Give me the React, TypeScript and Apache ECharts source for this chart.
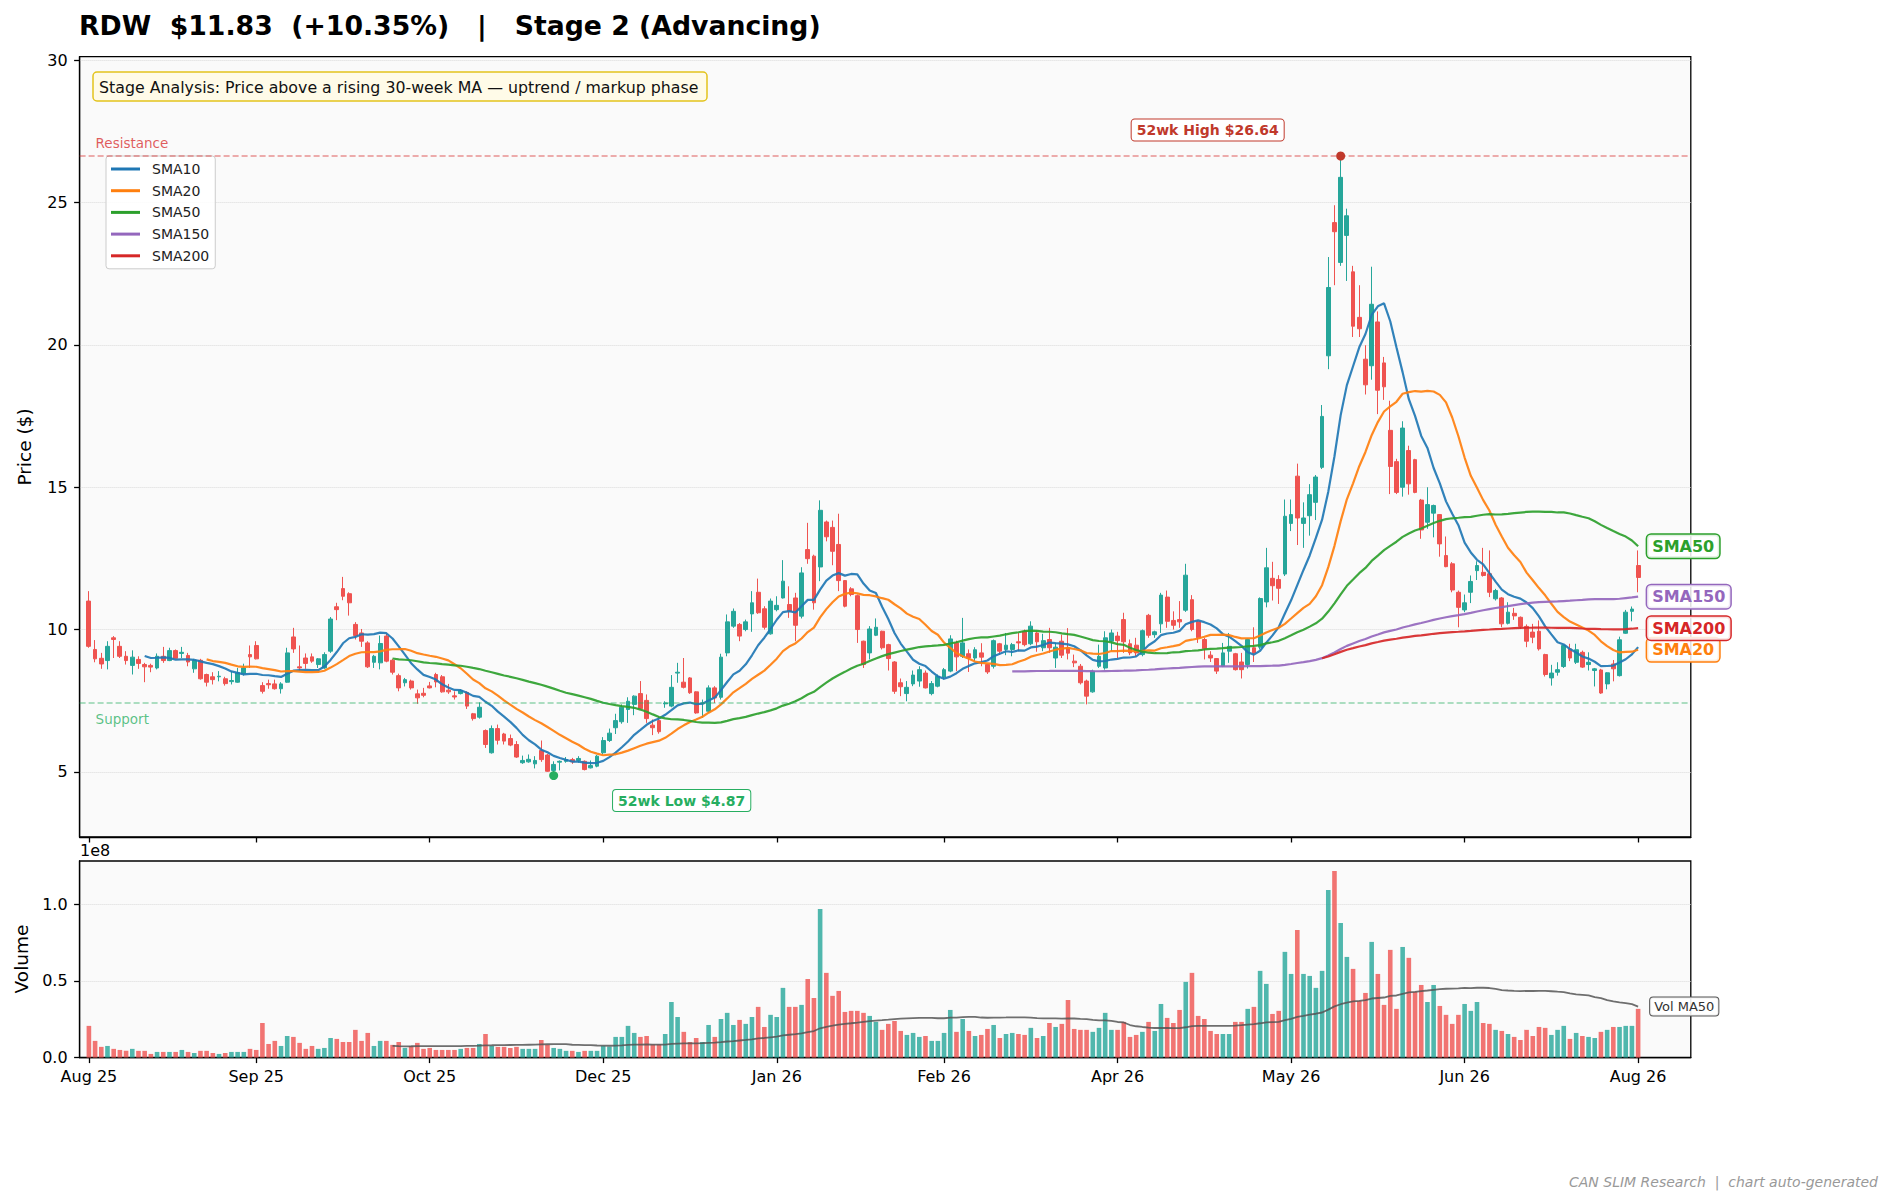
import React, { useEffect, useRef } from 'react';
import * as echarts from 'echarts';

const FONT = "'DejaVu Sans', sans-serif";

const opens = [
  11.0, 9.30, 8.99, 8.91, 9.71, 9.41, 9.06, 8.74, 8.95, 8.77,
  8.74, 8.65, 9.06, 8.91, 9.26, 9.16, 9.09, 8.62, 8.92, 8.42,
  8.34, 8.34, 8.27, 8.17, 8.15, 8.45, 9.12, 9.44, 8.03, 8.10,
  8.09, 7.92, 8.15, 9.74, 8.69, 9.00, 9.04, 8.77, 8.65, 9.24,
  10.80, 11.44, 11.26, 10.18, 9.88, 9.53, 8.85, 8.83, 9.77, 8.92,
  8.38, 8.13, 8.19, 7.74, 7.76, 8.02, 8.42, 8.34, 7.87, 7.67,
  7.75, 7.79, 7.04, 6.92, 6.45, 5.67, 6.52, 6.33, 6.17, 5.96,
  5.32, 5.35, 5.28, 5.75, 5.59, 5.05, 5.34, 5.37, 5.43, 5.40,
  5.37, 5.14, 5.20, 5.67, 6.10, 6.55, 6.76, 7.19, 7.37, 7.75,
  7.51, 6.64, 6.80, 7.39, 7.31, 8.47, 8.15, 8.30, 7.81, 7.39,
  7.13, 7.95, 7.62, 9.18, 10.12, 10.18, 10.00, 10.55, 11.31, 10.73,
  9.85, 10.70, 11.11, 10.88, 11.11, 10.47, 12.81, 12.58, 12.20, 13.78,
  13.59, 12.99, 11.72, 11.43, 11.19, 9.59, 9.18, 9.80, 9.94, 9.47,
  8.86, 8.13, 7.75, 8.09, 8.19, 8.47, 7.75, 8.01, 8.33, 8.54,
  9.53, 9.06, 9.15, 9.00, 9.18, 8.77, 8.71, 9.50, 9.30, 9.30,
  9.57, 9.94, 9.50, 9.88, 9.36, 9.65, 9.00, 9.59, 9.36, 8.89,
  8.71, 8.19, 7.81, 8.71, 8.65, 9.59, 9.77, 10.35, 9.50, 9.45,
  9.12, 10.50, 9.82, 10.20, 11.14, 10.32, 10.35, 10.68, 11.05, 10.27,
  9.65, 9.10, 8.98, 8.71, 9.24, 9.15, 8.86, 8.77, 9.36, 9.38,
  10.97, 11.80, 11.76, 11.95, 13.73, 15.39, 13.73, 14.00, 14.47, 15.70,
  19.62, 24.30, 22.90, 23.85, 22.57, 20.97, 19.50, 19.27, 20.81, 19.37,
  17.00, 15.90, 15.00, 16.29, 15.97, 14.55, 13.77, 14.09, 14.04, 12.60,
  12.31, 11.31, 10.69, 11.31, 12.07, 12.01, 11.96, 11.08, 11.11, 10.22,
  10.57, 10.43, 10.11, 9.91, 9.94, 9.12, 8.30, 8.50, 8.70, 9.32,
  8.85, 9.20, 8.77, 8.56, 8.58, 8.09, 8.79, 8.38, 9.87, 10.64,
  12.25,
];

const closes = [
  9.41, 8.97, 8.79, 9.41, 9.65, 9.06, 8.91, 9.03, 8.81, 8.69,
  8.68, 9.06, 8.91, 9.26, 8.99, 9.20, 8.86, 8.91, 8.27, 8.15,
  8.24, 8.36, 8.10, 8.21, 8.48, 8.65, 9.04, 8.97, 7.83, 8.06,
  7.92, 8.09, 9.18, 9.32, 8.65, 8.81, 8.89, 8.97, 9.12, 10.37,
  10.70, 11.17, 10.94, 9.79, 9.59, 8.69, 9.06, 9.51, 8.89, 8.50,
  7.95, 8.24, 7.95, 7.60, 7.69, 7.95, 8.16, 7.81, 7.81, 7.63,
  7.86, 7.31, 6.87, 7.27, 5.96, 6.52, 6.11, 6.08, 5.94, 5.52,
  5.40, 5.44, 5.40, 5.43, 5.02, 5.26, 5.37, 5.43, 5.35, 5.47,
  5.08, 5.22, 5.55, 6.10, 6.36, 6.80, 7.27, 7.48, 7.66, 7.22,
  6.87, 6.55, 6.41, 7.42, 7.97, 8.50, 7.97, 7.78, 7.07, 7.42,
  7.95, 7.60, 9.03, 10.27, 10.64, 9.77, 10.27, 10.94, 10.59, 10.08,
  11.00, 10.85, 11.70, 10.64, 10.15, 11.99, 12.49, 10.94, 14.19, 13.26,
  12.75, 11.72, 10.82, 11.23, 10.00, 8.77, 10.02, 10.08, 9.36, 8.98,
  7.83, 7.99, 7.97, 8.40, 8.59, 7.95, 8.10, 8.36, 8.59, 9.67,
  9.04, 9.53, 9.00, 9.29, 9.03, 8.51, 9.61, 9.24, 9.45, 9.47,
  9.53, 9.47, 10.12, 9.57, 9.61, 9.36, 9.38, 9.10, 9.17, 8.83,
  8.13, 7.66, 8.54, 9.06, 9.71, 9.88, 9.61, 9.57, 9.18, 9.18,
  9.96, 9.80, 9.92, 11.21, 10.29, 10.15, 10.27, 11.91, 10.00, 9.71,
  9.33, 9.00, 8.54, 9.18, 9.41, 8.59, 8.59, 9.65, 9.18, 11.09,
  12.17, 11.54, 11.45, 13.98, 14.04, 13.92, 13.92, 14.74, 15.36, 17.49,
  22.02, 23.98, 25.89, 24.54, 20.66, 20.57, 18.60, 21.43, 18.41, 18.53,
  15.73, 14.82, 17.08, 15.12, 14.82, 13.50, 14.39, 14.36, 13.01, 12.21,
  11.39, 10.78, 10.94, 11.69, 12.25, 11.90, 11.31, 11.37, 10.20, 10.61,
  10.48, 10.11, 9.59, 9.73, 9.32, 8.42, 8.47, 8.59, 9.44, 9.00,
  9.29, 8.68, 8.85, 8.62, 7.77, 8.48, 8.62, 9.64, 10.61, 10.72,
  11.83,
];

const lows = [
  9.36, 8.85, 8.62, 8.60, 9.00, 9.00, 8.77, 8.42, 8.62, 8.15,
  8.50, 8.60, 8.83, 8.89, 8.97, 9.00, 8.71, 8.48, 8.24, 8.00,
  8.07, 8.18, 8.03, 8.07, 8.13, 8.38, 8.65, 8.95, 7.75, 7.92,
  7.89, 7.75, 8.13, 9.18, 8.54, 8.62, 8.83, 8.65, 8.62, 9.18,
  10.33, 11.03, 10.49, 9.65, 9.39, 8.65, 8.65, 8.60, 8.85, 8.42,
  7.83, 8.00, 7.89, 7.39, 7.62, 7.93, 7.97, 7.78, 7.74, 7.54,
  7.72, 7.21, 6.80, 6.87, 5.84, 5.64, 5.96, 5.96, 5.90, 5.49,
  5.28, 5.32, 5.12, 5.35, 5.00, 4.87, 5.05, 5.32, 5.28, 5.32,
  5.05, 5.12, 5.16, 5.61, 6.05, 6.33, 6.69, 6.72, 6.99, 7.19,
  6.72, 6.29, 6.34, 7.25, 7.27, 8.13, 7.93, 7.74, 7.04, 6.90,
  7.07, 7.42, 7.54, 9.06, 10.06, 9.59, 9.94, 9.92, 10.55, 10.00,
  9.82, 10.64, 11.09, 10.41, 9.59, 10.39, 12.31, 10.70, 11.70, 13.10,
  12.26, 11.35, 10.78, 11.17, 9.53, 8.65, 8.95, 9.77, 9.30, 8.56,
  7.74, 7.66, 7.48, 8.01, 7.99, 7.93, 7.69, 7.97, 8.24, 8.50,
  8.54, 9.00, 8.51, 8.89, 8.71, 8.44, 8.63, 9.12, 9.10, 9.06,
  9.24, 9.41, 9.45, 9.22, 9.24, 9.18, 8.65, 9.00, 8.95, 8.68,
  8.07, 7.37, 7.78, 8.65, 8.59, 9.24, 9.00, 9.18, 9.10, 9.06,
  9.06, 9.71, 9.71, 9.88, 10.06, 10.00, 10.06, 10.62, 9.94, 9.53,
  8.95, 8.86, 8.44, 8.68, 8.83, 8.56, 8.28, 8.63, 8.86, 9.30,
  10.78, 11.02, 10.90, 11.88, 13.46, 12.97, 12.87, 13.30, 13.85, 15.64,
  19.15, 22.10, 22.78, 22.25, 20.28, 20.28, 18.26, 18.78, 17.57, 18.07,
  14.76, 14.76, 14.67, 14.74, 14.79, 13.19, 13.54, 13.24, 12.56, 12.19,
  11.31, 10.08, 10.61, 10.93, 11.74, 11.86, 11.14, 11.02, 10.08, 10.18,
  10.34, 10.02, 9.38, 9.52, 9.26, 8.35, 8.03, 8.38, 8.65, 8.89,
  8.79, 8.65, 8.56, 8.00, 7.74, 7.90, 8.18, 8.35, 9.85, 10.29,
  11.31,
];

const highs = [
  11.35, 9.63, 9.18, 9.59, 9.77, 9.59, 9.24, 9.27, 9.06, 8.83,
  8.80, 9.16, 9.39, 9.36, 9.30, 9.39, 9.18, 8.97, 8.97, 8.45,
  8.50, 8.54, 8.34, 8.54, 8.65, 8.80, 9.44, 9.59, 8.15, 8.24,
  8.24, 8.15, 9.36, 10.06, 9.44, 9.16, 9.16, 9.00, 9.20, 10.44,
  10.94, 11.85, 11.31, 10.26, 10.02, 9.59, 9.11, 9.79, 9.86, 8.97,
  8.45, 8.30, 8.24, 7.89, 7.95, 8.16, 8.48, 8.40, 8.09, 7.83,
  7.90, 7.83, 7.07, 7.44, 6.49, 6.63, 6.66, 6.37, 6.31, 6.08,
  5.57, 5.61, 5.55, 6.10, 5.63, 5.37, 5.40, 5.52, 5.49, 5.55,
  5.40, 5.40, 5.59, 6.22, 6.52, 7.04, 7.37, 7.62, 7.69, 8.19,
  7.72, 6.84, 6.96, 7.48, 8.40, 8.83, 9.00, 8.33, 7.83, 7.54,
  8.04, 8.01, 9.15, 10.53, 10.74, 10.23, 10.35, 11.35, 11.79, 10.82,
  11.09, 11.17, 12.44, 11.52, 11.29, 12.19, 13.75, 12.63, 14.54, 13.83,
  13.83, 14.07, 11.74, 11.49, 11.23, 9.61, 10.12, 10.39, 9.96, 9.50,
  8.89, 8.28, 8.19, 8.56, 8.71, 8.56, 8.19, 8.42, 8.65, 9.80,
  9.61, 10.41, 9.30, 9.38, 9.52, 8.79, 9.65, 9.53, 9.88, 9.53,
  9.88, 10.00, 10.29, 9.94, 9.85, 10.06, 9.53, 9.82, 10.05, 9.12,
  8.79, 8.24, 8.59, 9.47, 9.94, 10.00, 9.92, 10.59, 9.65, 9.71,
  10.00, 10.55, 9.96, 11.29, 11.37, 10.64, 11.00, 12.31, 11.21, 10.32,
  9.71, 9.24, 9.00, 9.53, 9.88, 9.18, 9.18, 9.68, 10.08, 11.13,
  12.87, 12.38, 11.91, 14.57, 14.57, 15.83, 14.47, 15.11, 15.43, 17.89,
  23.09, 24.91, 26.64, 24.79, 22.78, 22.10, 19.99, 22.75, 21.18, 19.58,
  18.04, 16.00, 17.32, 16.46, 16.00, 14.59, 15.00, 14.39, 14.06, 13.27,
  12.37, 11.37, 11.23, 11.90, 12.40, 12.87, 12.78, 11.43, 11.14, 10.96,
  10.76, 10.46, 10.18, 10.20, 10.32, 9.15, 8.76, 8.85, 9.47, 9.50,
  9.50, 9.26, 9.20, 8.65, 8.62, 8.50, 8.93, 9.75, 10.69, 10.81,
  12.78,
];

// volume in millions of shares
const volumesM = [
  20.7, 10.9, 7.0, 7.6, 5.7, 5.0, 4.4, 5.7, 4.4, 4.4,
  2.4, 3.7, 3.7, 3.7, 3.7, 5.0, 3.7, 3.0, 4.4, 4.4,
  3.0, 2.4, 3.0, 3.7, 3.7, 3.7, 5.7, 5.0, 22.6, 8.9,
  10.9, 7.6, 14.1, 13.5, 9.6, 5.7, 7.6, 5.7, 6.3, 12.8,
  12.2, 10.2, 10.2, 18.1, 10.9, 16.1, 7.6, 10.9, 10.9, 8.3,
  10.2, 6.3, 7.6, 9.6, 5.7, 6.3, 5.0, 5.0, 5.0, 5.0,
  5.7, 6.3, 6.3, 8.9, 15.4, 7.6, 7.0, 7.0, 6.3, 7.0,
  5.7, 5.7, 5.7, 11.5, 8.3, 6.3, 5.7, 4.4, 4.4, 3.7,
  4.4, 4.4, 4.4, 7.6, 7.2, 13.5, 13.5, 20.7, 16.1, 13.5,
  14.1, 8.5, 8.5, 15.4, 36.3, 26.5, 16.8, 10.2, 12.8, 10.2,
  21.3, 13.5, 25.2, 29.2, 21.3, 24.6, 22.0, 26.5, 33.1, 20.0,
  27.9, 26.5, 45.5, 33.1, 33.1, 34.4, 51.3, 38.9, 97.0, 55.3,
  40.3, 43.5, 29.8, 30.5, 30.5, 29.2, 27.2, 23.3, 18.1, 22.0,
  23.9, 17.4, 14.8, 16.1, 13.5, 14.1, 10.9, 10.9, 16.1, 31.1,
  16.8, 25.2, 17.4, 14.1, 14.8, 18.7, 21.3, 12.8, 15.4, 16.1,
  15.4, 14.8, 19.4, 12.8, 14.1, 22.6, 20.0, 22.0, 37.6, 18.7,
  18.1, 18.1, 16.8, 19.4, 29.2, 18.1, 18.1, 23.3, 13.5, 14.8,
  16.8, 23.3, 17.4, 35.0, 25.9, 22.6, 31.1, 49.4, 55.3, 27.2,
  25.2, 17.4, 15.4, 15.4, 15.4, 23.3, 23.3, 31.8, 33.1, 56.6,
  48.1, 28.5, 30.5, 69.0, 54.6, 83.3, 54.6, 53.3, 45.5, 56.6,
  109.4, 121.8, 87.9, 65.7, 57.9, 37.0, 42.2, 75.5, 54.6, 34.4,
  70.3, 31.8, 72.2, 65.1, 42.9, 47.4, 36.3, 47.4, 33.7, 27.9,
  22.0, 27.9, 35.0, 30.5, 36.3, 22.6, 22.0, 18.1, 17.4, 15.4,
  13.5, 11.5, 18.1, 14.1, 20.0, 19.4, 14.8, 18.1, 20.7, 12.2,
  16.1, 14.1, 13.5, 12.8, 16.8, 18.1, 20.0, 20.0, 20.7, 20.7,
  31.8,
];

const tickIndex = [0, 27, 55, 83, 111, 138, 166, 194, 222, 250];
const tickLabels = ['Aug 25', 'Sep 25', 'Oct 25', 'Dec 25', 'Jan 26', 'Feb 26', 'Apr 26', 'May 26', 'Jun 26', 'Aug 26'];
const priceTicks = [5, 10, 15, 20, 25, 30];
const volumeTicks = [0, 0.5e8, 1.0e8];

const resistance = 26.64;
const support = 7.42;
const high52 = { index: 202, value: 26.64 };
const low52 = { index: 75, value: 4.87 };

const smaDefs = [
  { name: 'SMA10', period: 10, color: '#1f77b4', tag: false },
  { name: 'SMA20', period: 20, color: '#ff7f0e', tag: true },
  { name: 'SMA50', period: 50, color: '#2ca02c', tag: true },
  { name: 'SMA150', period: 150, color: '#9467bd', tag: true },
  { name: 'SMA200', period: 200, color: '#d62728', tag: true },
];

const LEAD = 1;
const TRAIL = 8;

function movingAverage(arr: number[], n: number): (number | string)[] {
  return arr.map((_, i) => {
    if (i < n - 1) return '-';
    let s = 0;
    for (let k = i - n + 1; k <= i; k++) s += arr[k];
    return +(s / n).toFixed(4);
  });
}

const UP = '#26a69a';
const DOWN = '#ef5350';

export default function App() {
  const ref = useRef<HTMLDivElement>(null);

  useEffect(() => {
    document.body.style.margin = '0';
    if (!ref.current) return;
    const chart = echarts.init(ref.current, null, { renderer: 'svg' });

    const n = closes.length;
    const cats: string[] = [];
    for (let k = 0; k < LEAD + n + TRAIL; k++) cats.push('d' + (k - LEAD));
    const pad = (arr: any[]) => [...Array(LEAD).fill('-'), ...arr];

    const labelMap: Record<number, string> = {};
    tickIndex.forEach((t, j) => { labelMap[t + LEAD] = tickLabels[j]; });
    const isTick = (idx: number) => labelMap[idx] !== undefined;

    const candleData = pad(closes.map((c, i) => [opens[i], c, lows[i], highs[i]]));
    const volumes = volumesM.map(v => v * 1e6);
    const volData = pad(volumes.map((v, i) => ({
      value: v,
      itemStyle: { color: closes[i] >= opens[i] ? 'rgba(38,166,154,0.8)' : 'rgba(239,83,80,0.8)' },
    })));
    const volMA = pad(movingAverage(volumes, 50));

    const axisLineStyle = { color: '#000', width: 1.3 };

    const xCommon = (gridIndex: number, showLabels: boolean) => ({
      type: 'category',
      gridIndex,
      data: cats,
      boundaryGap: true,
      axisLine: { show: true, lineStyle: axisLineStyle },
      axisTick: { show: true, interval: (i: number) => isTick(i), alignWithLabel: true, length: 5.5, lineStyle: axisLineStyle },
      axisLabel: {
        show: showLabels,
        interval: (i: number) => isTick(i),
        formatter: (_v: string, i: number) => labelMap[i] ?? '',
        fontSize: 16, color: '#000', fontFamily: FONT, margin: 11,
      },
      splitLine: { show: false },
    });

    const smaSeries = smaDefs.map(d => ({
      name: d.name,
      type: 'line',
      xAxisIndex: 0,
      yAxisIndex: 0,
      data: pad(movingAverage(closes, d.period)),
      showSymbol: false,
      symbol: 'none',
      color: d.color,
      itemStyle: { color: d.color },
      lineStyle: { width: 2.2, color: d.color, opacity: 0.92 },
      z: 4,
      endLabel: d.tag ? {
        show: true,
        formatter: d.name,
        color: d.color,
        fontWeight: 'bold',
        fontSize: 16,
        fontFamily: FONT,
        backgroundColor: 'rgba(255,255,255,0.85)',
        borderColor: d.color,
        borderWidth: 1.5,
        borderRadius: 4,
        padding: [4, 5, 3, 5],
        distance: 9,
      } : { show: false },
    }));

    const option: any = {
      animation: false,
      backgroundColor: '#ffffff',
      textStyle: { fontFamily: FONT },
      title: {
        text: 'RDW  $11.83  (+10.35%)   |   Stage 2 (Advancing)',
        left: 79,
        top: 12,
        padding: 0,
        textStyle: { fontSize: 26.7, fontWeight: 'bold', color: '#000', fontFamily: FONT },
      },
      legend: {
        data: smaDefs.map(d => d.name),
        orient: 'vertical',
        left: 106,
        top: 156,
        icon: 'rect',
        itemWidth: 29,
        itemHeight: 3,
        itemGap: 7.7,
        selectedMode: false,
        backgroundColor: 'rgba(255,255,255,0.85)',
        borderColor: '#cccccc',
        borderWidth: 1,
        borderRadius: 3,
        padding: [6, 6, 6, 5],
        textStyle: { fontSize: 14, color: '#222', fontFamily: FONT, lineHeight: 14, padding: [0, 0, 0, 7] },
      },
      grid: [
        { left: 79.6, top: 56.7, width: 1611.2, height: 780.3, show: true, backgroundColor: '#fafafa', borderColor: '#000', borderWidth: 1.3 },
        { left: 79.6, top: 861, width: 1611.2, height: 196.6, show: true, backgroundColor: '#fafafa', borderColor: '#000', borderWidth: 1.3 },
      ],
      xAxis: [xCommon(0, false), xCommon(1, true)],
      yAxis: [
        {
          type: 'value', gridIndex: 0, min: 2.71, max: 30.13,
          axisLine: { show: true, lineStyle: axisLineStyle },
          axisTick: { show: true, customValues: priceTicks, length: 5.5, lineStyle: axisLineStyle },
          axisLabel: { customValues: priceTicks, fontSize: 16, color: '#000', fontFamily: FONT, margin: 12 },
          splitLine: { show: true, lineStyle: { type: 'dotted', color: '#dadada', width: 1 } },
        },
        {
          type: 'value', gridIndex: 1, min: 0, max: 1.283e8,
          axisLine: { show: true, lineStyle: axisLineStyle },
          axisTick: { show: true, customValues: volumeTicks, length: 5.5, lineStyle: axisLineStyle },
          axisLabel: { customValues: volumeTicks, formatter: (v: number) => (v / 1e8).toFixed(1), fontSize: 16, color: '#000', fontFamily: FONT, margin: 12 },
          splitLine: { show: true, lineStyle: { type: 'dotted', color: '#dadada', width: 1 } },
        },
      ],
      series: [
        {
          name: 'RDW',
          type: 'candlestick',
          xAxisIndex: 0,
          yAxisIndex: 0,
          data: candleData,
          barWidth: 4.3,
          z: 3,
          itemStyle: { color: UP, color0: DOWN, borderColor: UP, borderColor0: DOWN, borderWidth: 1 },
          markLine: {
            symbol: 'none',
            silent: true,
            data: [
              {
                yAxis: resistance,
                lineStyle: { color: 'rgba(214,39,40,0.5)', type: [6, 3], width: 1.5 },
                label: { show: true, position: 'insideStartTop', formatter: 'Resistance', color: 'rgba(214,39,40,0.75)', fontSize: 13.5, fontFamily: FONT, distance: 6, padding: [0, 0, 0, 10] },
              },
              {
                yAxis: support,
                lineStyle: { color: 'rgba(39,174,96,0.5)', type: [6, 3], width: 1.5 },
                label: { show: true, position: 'insideStartBottom', formatter: 'Support', color: 'rgba(39,174,96,0.75)', fontSize: 13.5, fontFamily: FONT, distance: 9, padding: [0, 0, 0, 7] },
              },
            ],
          },
          markPoint: {
            symbol: 'circle',
            symbolSize: 9,
            silent: true,
            data: [
              {
                coord: [high52.index + LEAD, high52.value],
                itemStyle: { color: '#c0392b' },
                label: {
                  show: true, formatter: `52wk High $${high52.value.toFixed(2)}`, offset: [-133, -26],
                  color: '#c0392b', fontWeight: 'bold', fontSize: 14, fontFamily: FONT,
                  backgroundColor: '#ffffff', borderColor: '#c0392b', borderWidth: 1, borderRadius: 3, padding: [4, 5, 3, 5],
                },
              },
              {
                coord: [low52.index + LEAD, low52.value],
                itemStyle: { color: '#27ae60' },
                label: {
                  show: true, formatter: `52wk Low $${low52.value.toFixed(2)}`, offset: [128, 25],
                  color: '#27ae60', fontWeight: 'bold', fontSize: 14, fontFamily: FONT,
                  backgroundColor: '#ffffff', borderColor: '#27ae60', borderWidth: 1, borderRadius: 3, padding: [4, 5, 3, 5],
                },
              },
            ],
          },
        },
        ...smaSeries,
        {
          name: 'Volume',
          type: 'bar',
          xAxisIndex: 1,
          yAxisIndex: 1,
          data: volData,
          barWidth: 4.6,
          z: 2,
        },
        {
          name: 'Vol MA50',
          type: 'line',
          xAxisIndex: 1,
          yAxisIndex: 1,
          data: volMA,
          showSymbol: false,
          symbol: 'none',
          color: '#555',
          lineStyle: { width: 1.8, color: '#555', opacity: 0.85 },
          z: 4,
          endLabel: {
            show: true, formatter: 'Vol MA50', color: '#333', fontSize: 13, fontFamily: FONT,
            backgroundColor: 'rgba(255,255,255,0.9)', borderColor: '#555', borderWidth: 1, borderRadius: 3,
            padding: [3, 4, 2, 4], distance: 12,
          },
        },
      ],
      graphic: [
        {
          type: 'rect', z: 20,
          shape: { x: 93, y: 72, width: 614, height: 29, r: 4 },
          style: { fill: '#fffbe8', stroke: '#e3c31c', lineWidth: 1.5 },
        },
        {
          type: 'text', z: 21, x: 99, y: 87,
          style: { text: 'Stage Analysis: Price above a rising 30-week MA — uptrend / markup phase', fontSize: 15.8, fontFamily: FONT, fill: '#111', align: 'left', verticalAlign: 'middle' },
        },
        {
          type: 'text', x: 24, y: 447, rotation: Math.PI / 2,
          style: { text: 'Price ($)', fontSize: 18.5, fontFamily: FONT, fill: '#000', align: 'center', verticalAlign: 'middle' },
        },
        {
          type: 'text', x: 21, y: 959, rotation: Math.PI / 2,
          style: { text: 'Volume', fontSize: 18.5, fontFamily: FONT, fill: '#000', align: 'center', verticalAlign: 'middle' },
        },
        {
          type: 'text', x: 80, y: 850,
          style: { text: '1e8', fontSize: 16, fontFamily: FONT, fill: '#000', align: 'left', verticalAlign: 'middle' },
        },
        {
          type: 'text', x: 1878, y: 1182,
          style: { text: 'CAN SLIM Research  |  chart auto-generated', fontSize: 14, fontStyle: 'italic', fontFamily: FONT, fill: '#999', align: 'right', verticalAlign: 'middle' },
        },
      ],
    };

    chart.setOption(option);
    return () => { chart.dispose(); };
  }, []);

  return <div ref={ref} style={{ width: 1891, height: 1203, background: '#fff' }} />;
}
